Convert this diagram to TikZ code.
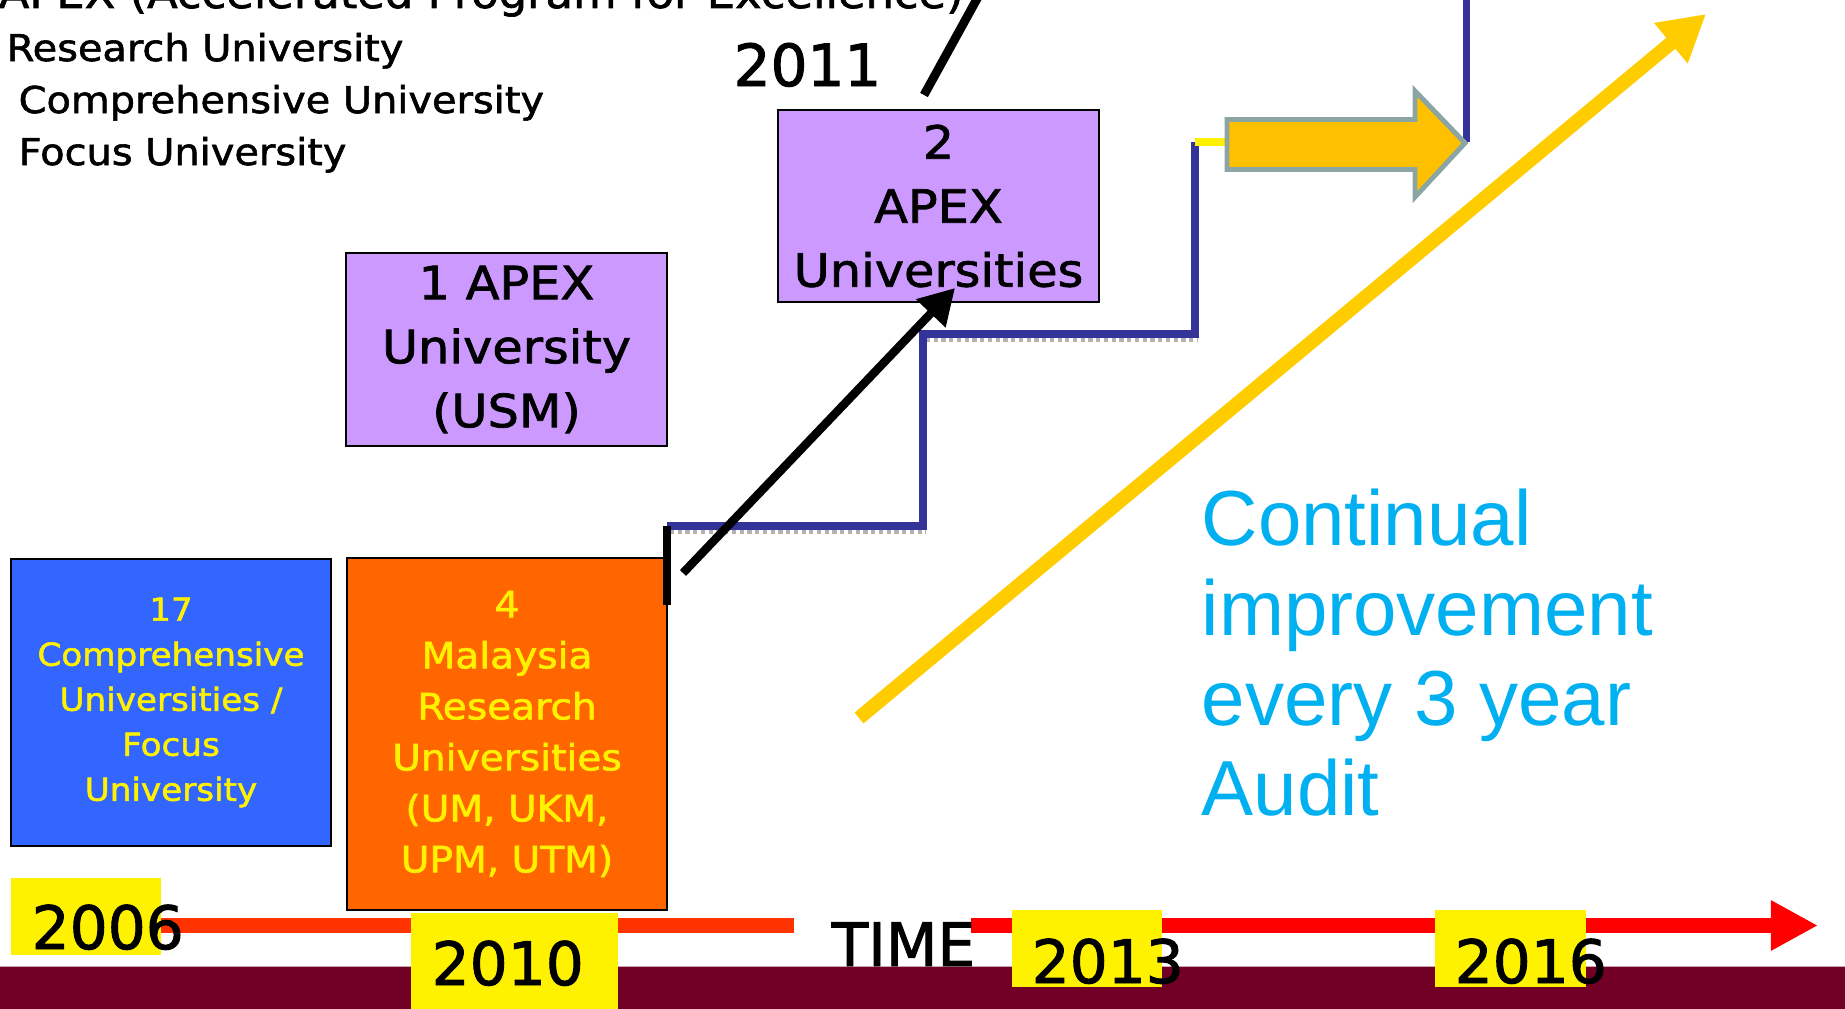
\documentclass[tikz,border=0pt]{standalone}
\usepackage{fontspec}
\setmainfont{DejaVu Sans}[FakeStretch=1.08, FakeBold=1.6]
\newfontfamily\yearfont{DejaVu Sans}[FakeBold=1.6]
\newfontfamily\auditfont{Liberation Sans}
\usetikzlibrary{arrows.meta}
\definecolor{apexpurple}{HTML}{CC99FF}
\definecolor{compblue}{HTML}{3366FF}
\definecolor{rschorange}{HTML}{FF6600}
\definecolor{stairblue}{HTML}{333399}
\definecolor{risegold}{HTML}{FFCC00}
\definecolor{blockgold}{HTML}{FFC000}
\definecolor{blockgray}{HTML}{8BA5A5}
\definecolor{auditblue}{HTML}{00B0F0}
\definecolor{band}{HTML}{720026}
\definecolor{bandline}{HTML}{C9A7B1}
\definecolor{timered}{HTML}{FF3300}
\tikzstyle{apex} = [rectangle, draw, fill=apexpurple, line width=0.6pt, align=center, inner sep=0pt, font=\fontsize{13}{18.2}\selectfont]
\tikzstyle{unibox} = [rectangle, draw, line width=0.6pt, text=yellow, align=center, inner sep=0pt]
\tikzstyle{heading} = [anchor=base west, inner sep=0pt, font=\fontsize{10.5}{13}\selectfont]
\tikzstyle{yeartext} = [anchor=base west, inner sep=0pt, font=\yearfont\fontsize{17}{20}\selectfont]
\tikzset{apexedge/.style = {
    line width=2.4pt,
    -{Triangle[length=10pt,width=11pt]},
  }
}
\tikzstyle{stair} = [stairblue, line width=2pt]
\tikzstyle{stairshadow} = [gray!60, line width=1.2pt, densely dotted]
\newcommand{\yearbg}[2]{%
  \fill[yellow] (#1) rectangle (#2);
}

\begin{document}
\begin{tikzpicture}[x=0.01cm, y=-0.01cm]
            \useasboundingbox (0,0) rectangle (1845,1009);
            \fill[white] (0,0) rectangle (1845,1009);

            % band and time line
            \fill[band] (0,967) rectangle (1845,1009);
            \draw[bandline, line width=0.5pt] (0,966.5) -- (1845,966.5);
            \coordinate (t0) at (161,925.5);
            \coordinate (t1) at (794,925.5);
            \coordinate (t2) at (971,925.5);
            \coordinate (t3) at (1818,925.5);
            \draw[timered, line width=4.3pt] (t0) -- (t1);
            \draw[red, line width=4.3pt, -{Triangle[length=13.4pt,width=13.4pt]}] (t2) -- (t3);

            \yearbg{11,878}{161,955}
            \yearbg{411,913}{618,1009}
            \yearbg{1012,910}{1162,987}
            \yearbg{1435,910}{1586,987}
            \node[yeartext] (y2006) at (31,949) {2006};
            \node[yeartext] (y2010) at (431,985) {2010};
            \node[yeartext] (y2013) at (1031,983) {2013};
            \node[yeartext] (y2016) at (1454,983) {2016};
            \node[yeartext] (time) at (831,966) {TIME};

            % headings
            \node[heading, font=\fontsize{11.8}{15}\selectfont] (title) at (-2,8) {APEX (Accelerated Program for Excellence)};
            \node[heading] (ru) at (6,61) {Research University};
            \node[heading] (cu) at (18,113) {Comprehensive University};
            \node[heading] (fu) at (18,165) {Focus University};
            \node[yeartext, font=\yearfont\fontsize{16.5}{20}\selectfont] (y2011) at (733,86) {2011};

            % vertices
            \node[unibox, fill=compblue, minimum width=3.2cm, minimum height=2.87cm, font=\fontsize{9}{12.8}\selectfont] (comp) at (171,702.5) {17\\Comprehensive\\Universities /\\Focus\\University};
            \node[unibox, fill=rschorange, minimum width=3.2cm, minimum height=3.52cm, font=\fontsize{10.3}{14.5}\selectfont] (rsch) at (507,734) {4\\Malaysia\\Research\\Universities\\(UM, UKM,\\UPM, UTM)};
            \node[apex, minimum width=3.21cm, minimum height=1.93cm] (apex1) at (506.5,349.5) {1 APEX\\University\\(USM)};
            \node[apex, minimum width=3.21cm, minimum height=1.92cm] (apex2) at (938.5,206) {2\\APEX\\Universities};

            % stairs
            \coordinate (st0) at (667,605);
            \coordinate (st1) at (667,526);
            \coordinate (st2) at (923,526);
            \coordinate (st3) at (923,334);
            \coordinate (st4) at (1195,334);
            \coordinate (st5) at (1195,142);
            \coordinate (st6) at (1227,142);
            \coordinate (st7) at (1466,142);
            \coordinate (st8) at (1466,-10);
            \draw[stairshadow] (670,532) -- (926,532);
            \draw[stairshadow] (926,340) -- (1198,340);
            \draw[stair] (st1) -- (st2) -- (st3) -- (st4) -- (st5);
            \draw[line width=2.3pt] (st0) -- (st1);
            \draw[yellow, line width=2.3pt] (st5) -- (st6);
            \draw[stair] (st7) -- (st8);
            \filldraw[fill=blockgold, draw=blockgray, line width=1.4pt] (1227,119.5) -- (1415,119.5) -- (1415,91) -- (1465,143) -- (1415,197) -- (1415,169.5) -- (1227,169.5) -- cycle;

            %edges
            \coordinate (a0) at (683,573);
            \coordinate (a1) at (955,288);
            \coordinate (b0) at (924,95);
            \coordinate (b1) at (983,-12);
            \coordinate (r0) at (859,718);
            \coordinate (r1) at (1706,14);
            \draw[apexedge] (a0) to (a1);
            \draw[line width=2.5pt] (b0) to (b1);
            \draw[risegold, line width=4pt, -{Triangle[length=13pt,width=14pt]}] (r0) to (r1);

            % audit text
            \node[anchor=north west, inner sep=0pt, align=left, text=auditblue, font=\auditfont\fontsize{22.2}{25.6}\selectfont] (audit) at (1201,488) {Continual\\improvement\\every 3 year\\Audit};
\end{tikzpicture}
\end{document}
